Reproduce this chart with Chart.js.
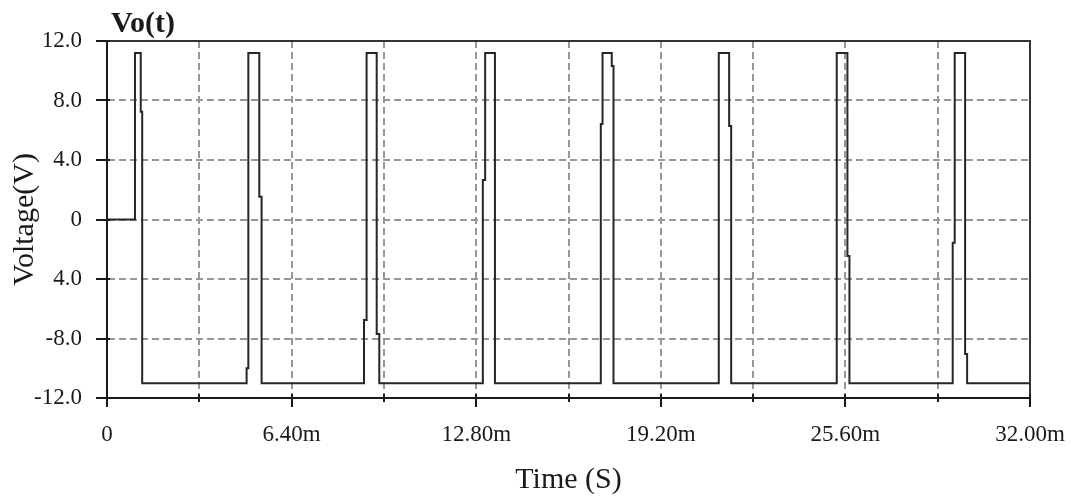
<!DOCTYPE html>
<html>
<head>
<meta charset="utf-8">
<title>Vo(t)</title>
<script src="https://cdn.jsdelivr.net/npm/chart.js@4.4.1/dist/chart.umd.min.js"></script>
<style>
  html, body { margin: 0; padding: 0; background: #fff; }
  #wrap { width: 1071px; height: 499px; }
</style>
</head>
<body>
<div id="wrap"><canvas id="chart" width="1071" height="499"></canvas></div>
<script>
// Data: time in ms, output voltage in V
const timeMs = [
    0, 0.97, 0.97, 1.17, 1.17, 1.22, 1.22,
    4.84, 4.84, 4.90, 4.90, 5.28, 5.28, 5.36, 5.36,
    8.91, 8.91, 9.00, 9.00, 9.35, 9.35, 9.44, 9.44,
    13.03, 13.03, 13.11, 13.11, 13.45, 13.45,
    17.12, 17.12, 17.18, 17.18, 17.50, 17.50, 17.56, 17.56,
    21.21, 21.21, 21.57, 21.57, 21.64, 21.64,
    25.30, 25.30, 25.67, 25.67, 25.74, 25.74,
    29.32, 29.32, 29.39, 29.39, 29.75, 29.75, 29.82, 29.82,
    32
];
const volts = [
    0, 0, 11.2, 11.2, 7.25, 7.25, -11,
    -11, -10.0, -10.0, 11.2, 11.2, 1.53, 1.53, -11,
    -11, -6.76, -6.76, 11.2, 11.2, -7.7, -7.7, -11,
    -11, 2.66, 2.66, 11.2, 11.2, -11,
    -11, 6.42, 6.42, 11.2, 11.2, 10.32, 10.32, -11,
    -11, 11.2, 11.2, 6.29, 6.29, -11,
    -11, 11.2, 11.2, -2.45, -2.45, -11,
    -11, -1.56, -1.56, 11.2, 11.2, -9.04, -9.04, -11,
    -11
];

const xTickValues = [0, 3.2, 6.4, 9.6, 12.8, 16, 19.2, 22.4, 25.6, 28.8, 32];
const xTickLabels = ['0', '', '6.40m', '', '12.80m', '', '19.20m', '', '25.60m', '', '32.00m'];
const yTickValues = [-12, -8, -4, 0, 4, 8, 12];
const yTickLabels = ['-12.0', '-8.0', '4.0', '0', '4.0', '8.0', '12.0'];

const SERIF = "'Liberation Serif', 'Times New Roman', serif";
const INK = '#1a1a1a';
const GRID = '#979797';

const points = timeMs.map((t, i) => ({ x: t, y: volts[i] }));

// title, frame and tick marks (long ticks on labelled x values)
const scopeDecor = {
    id: 'scopeDecor',
    afterDraw(chart) {
        const ctx = chart.ctx;
        const area = chart.chartArea;
        const xs = chart.scales.x;
        const ys = chart.scales.y;
        ctx.save();

        ctx.strokeStyle = '#333';
        ctx.lineWidth = 2;
        ctx.beginPath();
        ctx.moveTo(area.left, area.top);
        ctx.lineTo(area.right, area.top);
        ctx.lineTo(area.right, area.bottom);
        ctx.stroke();

        ctx.strokeStyle = INK;
        ctx.lineWidth = 2;
        yTickValues.forEach(v => {
            const y = Math.round(ys.getPixelForValue(v));
            ctx.beginPath();
            ctx.moveTo(area.left - 11, y);
            ctx.lineTo(area.left + 3, y);
            ctx.stroke();
        });
        xTickValues.forEach((v, i) => {
            const x = Math.round(xs.getPixelForValue(v));
            const major = xTickLabels[i] !== '';
            ctx.beginPath();
            ctx.moveTo(x, area.bottom - 4);
            ctx.lineTo(x, area.bottom + (major ? 9 : 4));
            ctx.stroke();
        });

        ctx.fillStyle = INK;
        ctx.font = 'bold 30px ' + SERIF;
        ctx.textBaseline = 'alphabetic';
        ctx.textAlign = 'left';
        ctx.fillText('Vo(t)', 111, 32);
        ctx.restore();
    }
};

const chart = new Chart(document.getElementById('chart'), {
    type: 'line',
    data: {
        datasets: [{
            label: 'Vo(t)',
            data: points,
            borderColor: '#262626',
            borderWidth: 2,
            pointRadius: 0,
            tension: 0,
            fill: false
        }]
    },
    options: {
        responsive: false,
        animation: false,
        layout: { padding: { top: 41, right: 41, left: 0, bottom: 0 } },
        plugins: {
            legend: { display: false },
            tooltip: { enabled: false },
            title: { display: false }
        },
        scales: {
            x: {
                type: 'linear',
                min: 0,
                max: 32,
                afterBuildTicks: s => { s.ticks = xTickValues.map(v => ({ value: v })); },
                afterFit: s => {
                    s.height = 101;
                    s.paddingLeft = 0;
                    s.paddingRight = 0;
                },
                grid: { color: GRID, lineWidth: 2, drawTicks: false },
                border: { color: INK, width: 2, dash: [7, 4] },
                ticks: {
                    autoSkip: false,
                    maxRotation: 0,
                    padding: 23,
                    color: INK,
                    font: { family: SERIF, size: 23 },
                    callback: (v, i) => xTickLabels[i]
                },
                title: {
                    display: true,
                    text: 'Time (S)',
                    color: INK,
                    font: { family: SERIF, size: 30 },
                    padding: { top: 0, bottom: 1 }
                }
            },
            y: {
                min: -12,
                max: 12,
                afterBuildTicks: s => { s.ticks = yTickValues.map(v => ({ value: v })); },
                afterFit: s => {
                    s.width = 107;
                    s.paddingTop = 0;
                    s.paddingBottom = 0;
                },
                grid: { color: GRID, lineWidth: 2, drawTicks: false },
                border: { color: INK, width: 2, dash: [7, 4] },
                ticks: {
                    padding: 25,
                    color: INK,
                    font: { family: SERIF, size: 23 },
                    callback: (v, i) => yTickLabels[i]
                },
                title: {
                    display: true,
                    text: 'Voltage(V)',
                    color: INK,
                    font: { family: SERIF, size: 30 },
                    padding: { top: 7, bottom: 0 }
                }
            }
        }
    },
    plugins: [scopeDecor]
});
</script>
</body>
</html>
